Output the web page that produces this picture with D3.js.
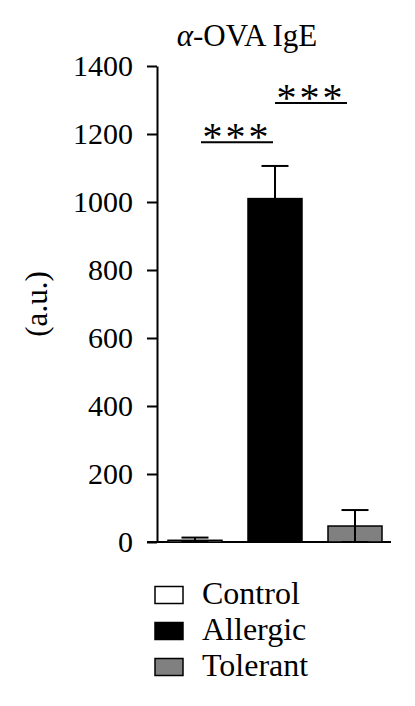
<!DOCTYPE html>
<html>
<head>
<meta charset="utf-8">
<script src="https://cdn.jsdelivr.net/npm/d3@7/dist/d3.min.js"></script>
<style>
  html, body { margin: 0; padding: 0; background: #fff; }
  svg { display: block; }
</style>
</head>
<body>
<svg id="chart" width="415" height="706"></svg>
<script>
const categories = ["Control", "Allergic", "Tolerant"];
const means = [5, 1010, 47];
const errors = [8, 96, 47];
const colors = ["#ffffff", "#000000", "#808080"];
const yTicks = [0, 200, 400, 600, 800, 1000, 1200, 1400];
const titleText = "-OVA IgE";
const yLabel = "(a.u.)";
const sigPairs = [[0, 1, "***"], [1, 2, "***"]];
const sigLevels = [1176, 1291];

const FONT = "Liberation Serif";
const svg = d3.select("#chart");
const y = d3.scaleLinear().domain([0, 1400]).range([542, 66]);
const x = d3.scaleBand().domain(categories).range([168, 382]).paddingInner(0.325).paddingOuter(0);
const fs = 30;

// Y axis
const yAxis = d3.axisLeft(y).tickValues(yTicks).tickSize(10).tickPadding(14).tickSizeOuter(0).tickFormat(d3.format("d"));
const gy = svg.append("g").attr("transform", "translate(157,0)").call(yAxis)
  .attr("font-family", FONT).attr("font-size", fs);
gy.select(".domain").attr("stroke", "#000").attr("stroke-width", 2);
gy.selectAll(".tick line").attr("stroke", "#000").attr("stroke-width", 2);
gy.selectAll(".tick text").style("font-family", FONT).style("font-size", fs + "px").attr("fill", "#000");

// X baseline
svg.append("line").attr("x1", 147).attr("x2", 391).attr("y1", y(0)).attr("y2", y(0))
  .attr("stroke", "#000").attr("stroke-width", 2);

// Bars
svg.selectAll("rect.bar").data(categories).join("rect").attr("class", "bar")
  .attr("x", d => x(d)).attr("width", x.bandwidth())
  .attr("y", (d, i) => y(means[i])).attr("height", (d, i) => y(0) - y(means[i]))
  .attr("fill", (d, i) => colors[i]).attr("stroke", "#000").attr("stroke-width", 1.5);

// Error bars
const capW = 27;
categories.forEach((c, i) => {
  const cx = x(c) + x.bandwidth() / 2;
  const hi = y(means[i] + errors[i]);
  const lo = y(Math.max(0, means[i] - errors[i]));
  const g = svg.append("g").attr("stroke", "#000").attr("stroke-width", 2);
  g.append("line").attr("x1", cx).attr("x2", cx).attr("y1", hi).attr("y2", lo);
  g.append("line").attr("x1", cx - capW / 2).attr("x2", cx + capW / 2).attr("y1", hi).attr("y2", hi);
  g.append("line").attr("x1", cx - capW / 2).attr("x2", cx + capW / 2).attr("y1", lo).attr("y2", lo);
});

// Significance
const sigInset = [[6, -2], [0, -8]];
sigPairs.forEach((p, k) => {
  const a = x(categories[p[0]]) + x.bandwidth() / 2 + sigInset[k][0];
  const b = x(categories[p[1]]) + x.bandwidth() / 2 + sigInset[k][1];
  const ly = y(sigLevels[k]);
  svg.append("line").attr("x1", a).attr("x2", b).attr("y1", ly).attr("y2", ly)
    .attr("stroke", "#000").attr("stroke-width", 2);
  svg.append("text").attr("x", (a + b) / 2).attr("y", ly + 8)
    .attr("text-anchor", "middle").style("font-family", FONT).style("font-size", "40px")
    .attr("letter-spacing", 3)
    .text(p[2]);
});

// Title
const t = svg.append("text").attr("x", 247).attr("y", 46).attr("text-anchor", "middle")
  .style("font-family", FONT).style("font-size", "31px");
t.append("tspan").attr("font-style", "italic").text("α");
t.append("tspan").text(titleText);

// Y label
svg.append("text").attr("transform", "translate(47,304) rotate(-90)")
  .attr("text-anchor", "middle").style("font-family", FONT).style("font-size", "31px").text(yLabel);

// Legend
const lg = svg.append("g");
categories.forEach((c, i) => {
  const cy = 595 + i * 36;
  lg.append("rect").attr("x", 155).attr("y", cy - 8.5).attr("width", 28).attr("height", 17)
    .attr("fill", colors[i]).attr("stroke", "#000").attr("stroke-width", 1.5);
  lg.append("text").attr("x", 202).attr("y", cy + 9).style("font-family", FONT)
    .style("font-size", "32px").text(c);
});
</script>
</body>
</html>
